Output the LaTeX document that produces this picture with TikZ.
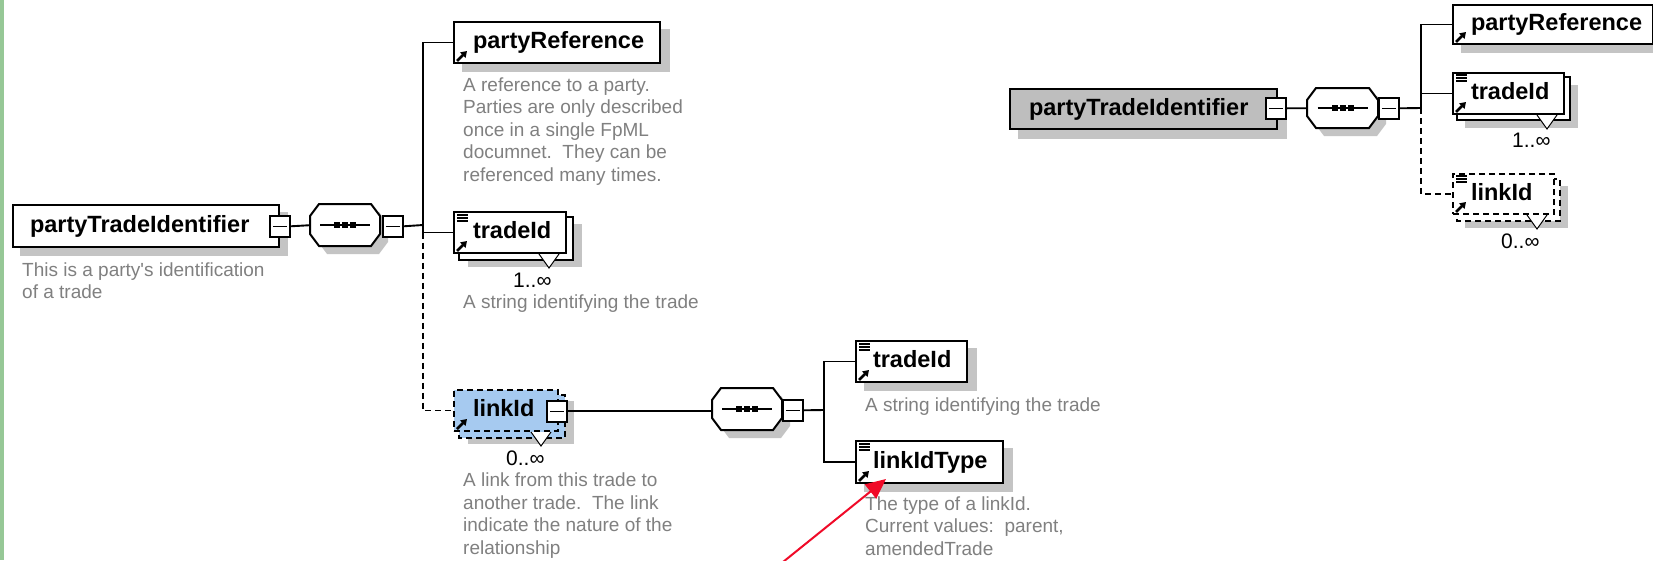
\documentclass[tikz,border=0pt]{standalone}
\usepackage{fontspec}
\setmainfont{Liberation Sans}
\usetikzlibrary{arrows.meta,backgrounds,calc}

\definecolor{shadowc}{RGB}{196,196,196}
\definecolor{descc}{RGB}{128,128,128}
\definecolor{linkblue}{RGB}{166,202,240}
\definecolor{greybox}{RGB}{190,190,190}
\definecolor{greenbar}{RGB}{150,200,150}
\definecolor{arrowred}{RGB}{240,10,40}

\newcommand\lblfont{\fontsize{23.5}{28}\selectfont\bfseries}
\newcommand\descfont{\fontsize{19}{22.5}\selectfont}
\newcommand\multfont{\fontsize{21}{24}\selectfont}

% octagon outline from left, top, right, bottom
\newcommand\octpath[4]{(#1,#2+12) -- (#1+9,#2) -- (#3-9,#2) -- (#3,#2+12) -- (#3,#4-12) -- (#3-9,#4) -- (#1+9,#4) -- (#1,#4-12) -- cycle}
\newcommand\shadowbox[3]{\fill[shadowc] ([shift={(#2,#3)}]#1.north west) rectangle ([shift={(#2,#3)}]#1.south east);}
\newcommand\backbox[4]{\draw[#4] ([shift={(#2,#3)}]#1.north west) rectangle ([shift={(#2,#3)}]#1.south east);}
\newcommand\notchof[1]{\filldraw[fill=white, draw=black, line width=1pt] ([shift={(-28,0)}]#1.south east) -- ([shift={(-18,14)}]#1.south east) -- ([shift={(-8,0)}]#1.south east);}
\newcommand\octagonnode[5]{%
  \node[octnode, minimum width={#4-#2}, minimum height={#5-#3}] (#1) at (#2,#3) {};
  \draw[elem] \octpath{#2}{#3}{#4}{#5};
  \draw[line width=1.5pt] ([xshift=-25pt]#1.center) -- ([xshift=25pt]#1.center);
  \foreach \dx in {-8,0,8} \fill ([xshift=\dx pt-2.8pt,yshift=-2.8pt]#1.center) rectangle ([xshift=\dx pt+2.8pt,yshift=2.8pt]#1.center);
}

\tikzset{
  x=1pt, y=-1pt,
  elem/.style={draw=black, line width=2pt, fill=white},
  box/.style={elem, anchor=north west, inner xsep=0pt, inner ysep=0pt, align=left,
    text height=17pt, text depth=5pt, font=\lblfont},
  boxd/.style={dash pattern=on 6pt off 4pt},
  octnode/.style={inner sep=0pt, anchor=north west},
  minus/.style={draw=black, line width=1.6pt, fill=white, minimum width=20pt, minimum height=21pt,
    inner sep=0pt, anchor=north west,
    path picture={\draw[line width=1.3pt] ([xshift=3pt]path picture bounding box.west) -- ([xshift=-3pt]path picture bounding box.east);}},
  conn/.style={draw=black, line width=1.9pt},
  connd/.style={conn, dash pattern=on 6pt off 4pt},
  desc/.style={font=\descfont, text=descc, align=left, anchor=base west, inner sep=0pt},
  mult/.style={font=\multfont, text=black, anchor=base west, inner sep=0pt},
  redarrow/.style={draw=arrowred, line width=2pt, -{Triangle[length=20pt,width=18pt]}},
  refarrow/.pic={\draw[line width=2.6pt, -{Triangle[length=6pt,width=7.5pt]}] (0,0) -- (10,-10);},
  typeicon/.pic={\foreach \k in {0,3,6} \draw[line width=1.2pt] (0,\k) -- (11,\k);}
}

\begin{document}
\begin{tikzpicture}
\useasboundingbox (0,0) rectangle (1653,560);
\fill[greenbar] (0,0) rectangle (4,560);

% ---------- left diagram ----------
\node[box, text width=266pt, minimum height=42pt] (ptiL) at (12,204) {\hspace*{17pt}partyTradeIdentifier};
\node[minus] (ptiLm) at (269,215) {};
\octagonnode{octL}{310}{204}{380}{246}
\node[minus] (octLm) at (382,215) {};

\node[box, text width=206pt, minimum height=41pt] (prefL) at (453,21) {\hspace*{19pt}partyReference};
\node[box, text width=112pt, minimum height=41pt] (tidL) at (453,211) {\hspace*{19pt}tradeId};
\node[box, boxd, fill=linkblue, text width=104pt, minimum height=41pt] (lidL) at (453,389) {\hspace*{19pt}linkId};
\node[minus] (lidLm) at (546,400) {};

\octagonnode{octC}{712}{388}{782}{430}
\node[minus] (octCm) at (782,399) {};
\node[box, text width=111pt, minimum height=41pt] (tidC) at (855,340) {\hspace*{17pt}tradeId};
\node[box, text width=147pt, minimum height=42pt] (ltyC) at (855,440) {\hspace*{17pt}linkIdType};

% icons
\pic at ([shift={(4,-3)}]prefL.south west) {refarrow};
\pic at ([shift={(4,-3)}]tidL.south west) {refarrow};
\pic at ([shift={(4,4)}]tidL.north west) {typeicon};
\pic at ([shift={(4,-3)}]lidL.south west) {refarrow};
\pic at ([shift={(4,-3)}]tidC.south west) {refarrow};
\pic at ([shift={(4,4)}]tidC.north west) {typeicon};
\pic at ([shift={(4,-3)}]ltyC.south west) {refarrow};
\pic at ([shift={(4,4)}]ltyC.north west) {typeicon};

% connectors
\coordinate (busL) at (423,225);
\draw[conn] (ptiLm.east) -- (octL.west);
\draw[conn] (octLm.east) -- (busL);
\draw[conn] (prefL.west) -| (busL);
\draw[conn] (tidL.west) -| (busL);
\draw[connd] (busL |- tidL.west) |- (lidL.west);
\draw[conn] (lidLm.east) -- (lidLm.east -| octC.west);
\coordinate (busC) at (824,410);
\draw[conn] (octCm.east) -- (busC);
\draw[conn] (tidC.west) -| (busC);
\draw[conn] (ltyC.west) -| (busC);

% texts (base anchor of a multi-line node = baseline of its last line)
\node[mult] (tidLmult) at (513,287) {1..∞};
\node[mult] (lidLmult) at (506,465) {0..∞};
\node[desc] (ptiLd) at (22,298.5) {This is a party\textquotesingle s identification\\of a trade};
\node[desc] (prefLd) at (463,181) {A reference to a party.\\Parties are only described\\once in a single FpML\\documnet.\ \ They can be\\referenced many times.};
\node[desc] (tidLd) at (463,308) {A string identifying the trade};
\node[desc] (lidLd) at (463,554) {A link from this trade to\\another trade.\ \ The link\\indicate the nature of the\\relationship};
\node[desc] (tidCd) at (865,411) {A string identifying the trade};
\node[desc] (ltyCd) at (865,555) {The type of a linkId.\\Current values:\ \ parent,\\amendedTrade};

% ---------- right diagram ----------
\node[box, fill=greybox, text width=267pt, minimum height=40pt] (ptiR) at (1009,88) {\hspace*{19pt}partyTradeIdentifier};
\node[minus] (ptiRm) at (1265,97) {};
\octagonnode{octR}{1307}{88}{1378}{128}
\node[minus] (octRm) at (1378,97) {};
\node[box, text width=200pt, minimum height=39pt] (prefR) at (1452,4) {\hspace*{18pt}partyReference};
\node[box, text width=111pt, minimum height=41pt] (tidR) at (1452,72) {\hspace*{18pt}tradeId};
\node[box, boxd, text width=101pt, minimum height=40pt] (lidR) at (1452,173) {\hspace*{18pt}linkId};
\pic at ([shift={(4,-3)}]prefR.south west) {refarrow};
\pic at ([shift={(4,-3)}]tidR.south west) {refarrow};
\pic at ([shift={(4,3)}]tidR.north west) {typeicon};
\pic at ([shift={(4,-3)}]lidR.south west) {refarrow};
\pic at ([shift={(4,3)}]lidR.north west) {typeicon};

\coordinate (busR) at (1421,108);
\draw[conn] (ptiRm.east) -- (octR.west);
\draw[conn] (octRm.east) -- (busR);
\draw[conn] (prefR.west) -| (busR);
\draw[conn] (tidR.west) -| (busR);
\draw[connd] (busR) |- (lidR.west);
\node[mult] (tidRmult) at (1512,147) {1..∞};
\node[mult] (lidRmult) at (1501,248) {0..∞};

% red arrow
\coordinate (redstart) at (783,562);
\draw[redarrow] (redstart) -- ([shift={(31,-5)}]ltyC.south west);

% ---------- background: shadows and stacked copies ----------
\begin{scope}[on background layer]
  \fill[white] (4,0) rectangle (1653,560);
  \shadowbox{ptiL}{8}{8}
  \shadowbox{prefL}{9}{8}
  \shadowbox{tidL}{15}{13}
  \shadowbox{lidL}{15}{12}
  \shadowbox{tidC}{9}{8}
  \shadowbox{ltyC}{9}{8}
  \shadowbox{ptiR}{9}{9}
  \shadowbox{prefR}{9}{8}
  \shadowbox{tidR}{13}{13}
  \shadowbox{lidR}{13}{13}
  \fill[shadowc] \octpath{318}{212}{388}{254};
  \fill[shadowc] \octpath{720}{396}{790}{438};
  \fill[shadowc] \octpath{1315}{96}{1386}{136};
  \backbox{tidL}{6}{6}{elem}
  \backbox{lidL}{6}{6}{elem, fill=linkblue, dash pattern=on 6pt off 4pt}
  \backbox{tidR}{5}{5}{elem}
  \backbox{lidR}{5}{6}{elem, dash pattern=on 6pt off 4pt}
  \notchof{tidL}
  \notchof{lidL}
  \notchof{tidR}
  \notchof{lidR}
\end{scope}
\end{tikzpicture}
\end{document}
